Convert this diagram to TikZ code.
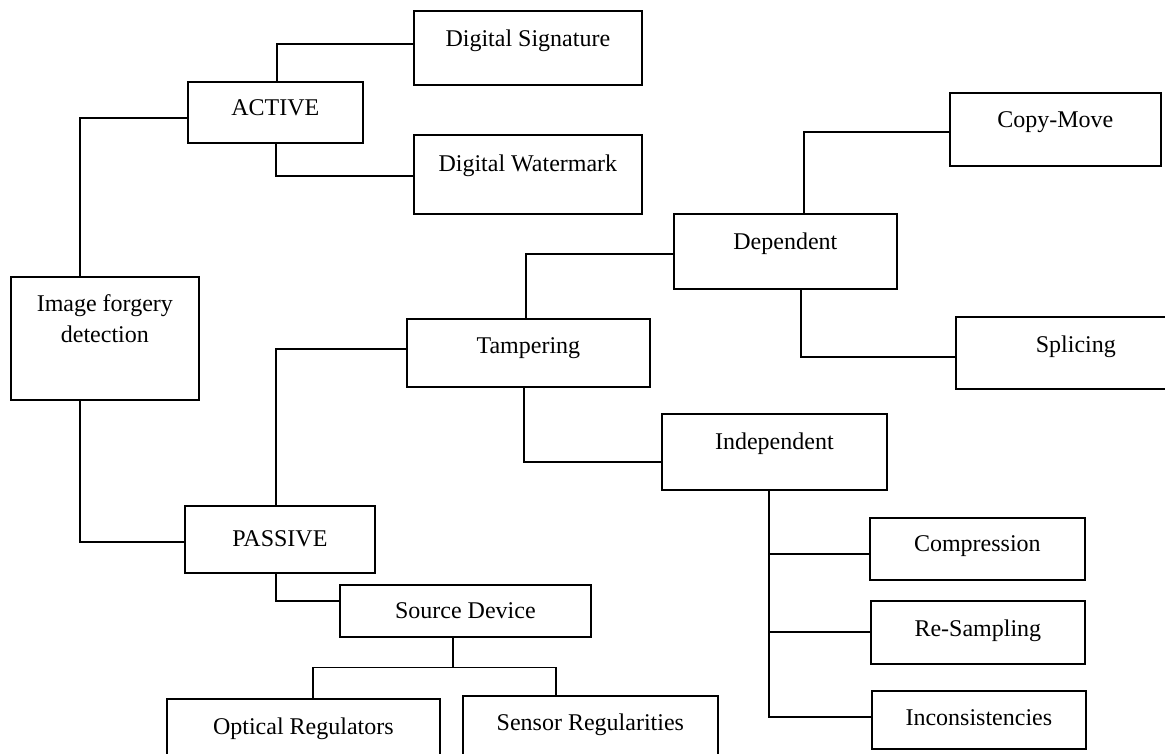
\documentclass[tikz,border=0pt]{standalone}
\usepackage{fontspec}
\setmainfont{Liberation Serif}
\usetikzlibrary{positioning}

\begin{document}
\begin{tikzpicture}[x=1pt,y=-1pt,
	box/.style={rectangle,draw,line width=1.7pt,inner sep=0pt,anchor=north west,
	font=\fontsize{24}{31}\selectfont},
	link/.style={line width=1.5pt}]
			\useasboundingbox (0,0) rectangle (1165,753);
			\clip (0,0) rectangle (1165,753);
			\node [box,minimum width=188pt,minimum height=123pt,align=center,
			text depth=40pt,name = ifd] at (10,276) {Image forgery\\detection};
			\node [box,minimum width=175pt,minimum height=61pt,text depth=9pt,
			name = active] at (187,81) {ACTIVE};
			\node [box,minimum width=228pt,minimum height=74pt,text depth=20pt,
			name = digsig] at (413,10) {Digital Signature};
			\node [box,minimum width=228pt,minimum height=79pt,text depth=23pt,
			name = digwm] at (413,134) {Digital Watermark};
			\node [box,minimum width=190pt,minimum height=67pt,text depth=1pt,
			name = passive] at (184,505) {PASSIVE};
			\node [box,minimum width=243pt,minimum height=68pt,text depth=14pt,
			name = tamper] at (406,318) {Tampering};
			\node [box,minimum width=223pt,minimum height=75pt,text depth=21pt,
			name = depend] at (673,213) {Dependent};
			\node [box,minimum width=211pt,minimum height=73pt,text depth=19pt,
			name = copymove] at (949,92) {Copy-Move};
			\node [box,minimum width=240pt,minimum height=72pt,text depth=18pt,
			name = splice] at (955,316) {Splicing};
			\node [box,minimum width=225pt,minimum height=76pt,text depth=22pt,
			name = indep] at (661,413) {Independent};
			\node [box,minimum width=215pt,minimum height=62pt,text depth=10pt,
			name = compress] at (869,517) {Compression};
			\node [box,minimum width=214pt,minimum height=63pt,text depth=9pt,
			name = resample] at (870,600) {Re-Sampling};
			\node [box,minimum width=214pt,minimum height=58pt,text depth=4pt,
			name = incons] at (871,690) {Inconsistencies};
			\node [box,minimum width=251pt,minimum height=52pt,text depth=0pt,
			name = source] at (339,584) {Source Device};
			\node [box,minimum width=273pt,minimum height=90pt,text depth=36pt,
			name = optical] at (166,698) {Optical Regulators};
			\node [box,minimum width=255pt,minimum height=90pt,text depth=38pt,
			name = sensor] at (462,695) {Sensor Regularities};
			\draw [link] ([xshift=-25pt]ifd.north) |- ([yshift=-5.5pt]active.west);
			\draw [link] ([xshift=-25pt]ifd.south) |- ([yshift=-2.5pt]passive.west);
			\draw [link] ([xshift=1.5pt]active.north) |- ([yshift=4pt]digsig.west);
			\draw [link] ([xshift=0.5pt]active.south) |- ([yshift=-1.5pt]digwm.west);
			\draw [link] ([xshift=-4pt]passive.north) |- ([yshift=4pt]tamper.west);
			\draw [link] ([xshift=-4pt]passive.south) |- ([yshift=10pt]source.west);
			\draw [link] ([xshift=-2.5pt]tamper.north) |- ([yshift=-2.5pt]depend.west);
			\draw [link] ([xshift=-4.5pt]tamper.south) |- ([yshift=-10pt]indep.west);
			\draw [link] ([xshift=18.5pt]depend.north) |- ([yshift=-2.5pt]copymove.west);
			\draw [link] ([xshift=15.5pt]depend.south) |- ([yshift=-4pt]splice.west);
			\draw [link] ([xshift=-5.5pt]indep.south) |- ([yshift=-5pt]compress.west);
			\draw [link] ([xshift=-5.5pt]indep.south) |- ([yshift=0.5pt]resample.west);
			\draw [link] ([xshift=-5.5pt]indep.south) |- ([yshift=3pt]incons.west);
			\draw [link] ([xshift=-12.5pt]source.south) -- ++(0,30) coordinate (fork);
			\draw [link] ([xshift=9.5pt]optical.north) |- (fork) -| ([xshift=-34.5pt]sensor.north);
		\end{tikzpicture}
\end{document}
